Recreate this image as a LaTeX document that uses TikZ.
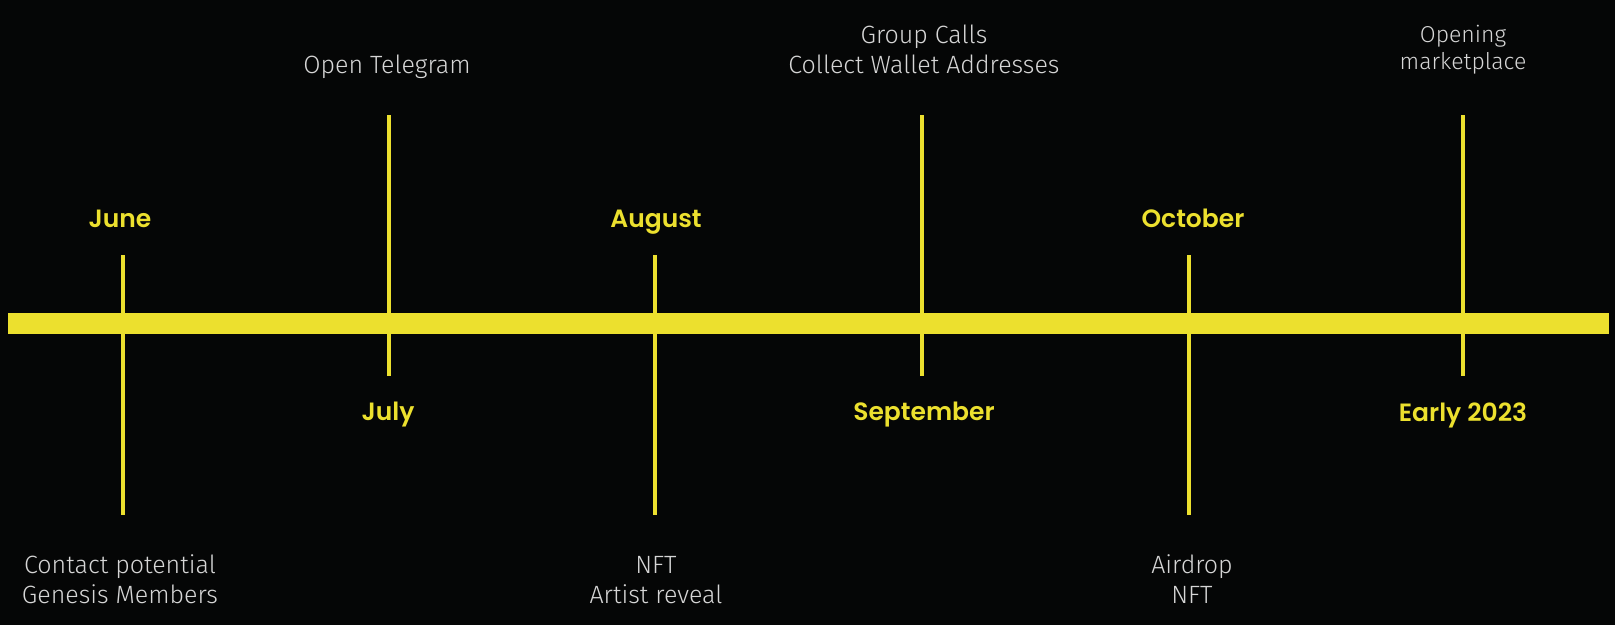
\documentclass[tikz,border=0pt]{standalone}
\usepackage{fontspec}
\usetikzlibrary{positioning}
\newfontfamily\monthfont{Poppins SemiBold}
\newfontfamily\eventfont{Fira Sans Light}
\definecolor{bgC}{RGB}{5, 6, 6}
\definecolor{ylC}{RGB}{236, 224, 46}
\definecolor{gyC}{RGB}{214, 214, 214}
\tikzset{
  month/.style = {font=\monthfont\fontsize{25}{30}\selectfont, text=ylC,
                  inner sep=0pt, anchor=base},
  event/.style = {font=\eventfont\fontsize{25}{30}\selectfont, text=gyC,
                  align=center, inner sep=0pt, anchor=base},
  bar/.style   = {draw=ylC, line width=21pt},
  tick/.style  = {draw=ylC, line width=3.5pt},
}

\begin{document}
\begin{tikzpicture}[x=1pt, y=-1pt]

% ---- Background -------------------------------------------------------------
\useasboundingbox (0,0) rectangle (1615,625);
\fill[bgC] (0,0) rectangle (1615,625);

% ---- Main bar ---------------------------------------------------------------
\coordinate (bar-w) at (8,323.5);
\coordinate (bar-e) at (1609,323.5);
\draw[bar] (bar-w) -- (bar-e);

% ---- Ticks ------------------------------------------------------------------
\coordinate (jun-t) at (123,255);  \coordinate (jun-b) at (123,515);
\coordinate (jul-t) at (389,115);  \coordinate (jul-b) at (389,376);
\coordinate (aug-t) at (655,255);  \coordinate (aug-b) at (655,515);
\coordinate (sep-t) at (922,115);  \coordinate (sep-b) at (922,376);
\coordinate (oct-t) at (1189,255); \coordinate (oct-b) at (1189,515);
\coordinate (ear-t) at (1463,115); \coordinate (ear-b) at (1463,376);

\foreach \m in {jun, jul, aug, sep, oct, ear}
  \draw[tick] (\m-t) -- (\m-b);

% ---- Month labels -----------------------------------------------------------
\node[month] (jun) at (120,227)  {June};
\node[month] (jul) at (388,420)  {July};
\node[month] (aug) at (656,227)  {August};
\node[month] (sep) at (924,420)  {September};
\node[month] (oct) at (1193,227) {October};
\node[month] (ear) at (1463,421) {Early 2023};

% ---- Events (base = last line) ----------------------------------------------
\node[event] (tel) at (387,73) {Open Telegram};
\node[event] (grp) at (924,73) {Group Calls\\Collect Wallet Addresses};
\node[event, font=\eventfont\fontsize{23}{27}\selectfont]
  (mkt) at (1463,69) {Opening\\marketplace};
\node[event] (gen) at (120,603)  {Contact potential\\Genesis Members};
\node[event] (nft) at (656,603)  {NFT\\Artist reveal};
\node[event] (air) at (1192,603) {Airdrop\\NFT};

\end{tikzpicture}
\end{document}
